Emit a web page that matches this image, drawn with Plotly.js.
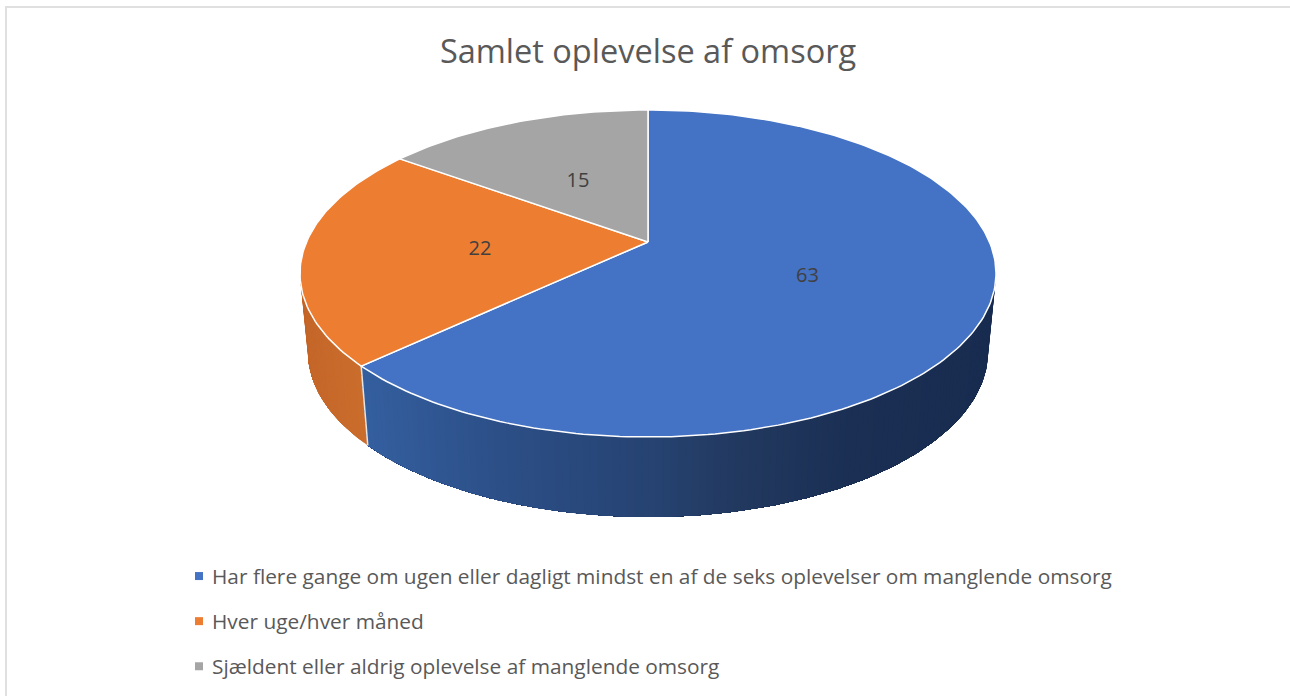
<!DOCTYPE html>
<html><head><meta charset="utf-8">
<script src="https://cdn.plot.ly/plotly-3.0.1.min.js"></script>
<style>html,body{margin:0;padding:0;background:#fff}#c{width:1290px;height:696px}</style>
</head><body><div id="c"></div>
<script>
const categories = [
  "Har flere gange om ugen eller dagligt mindst en af de seks oplevelser om manglende omsorg",
  "Hver uge/hver måned",
  "Sjældent eller aldrig oplevelse af manglende omsorg"
];
const values = [63, 22, 15];
const topColors = ["#4472C4", "#ED7D31", "#A5A5A5"];
const chartTitle = "Samlet oplevelse af omsorg";

// geometry of the tilted disc, in layout units
const TOP = {cx: 648, cy: 273.5, rx: 348, ry: 163.5};
const BOT = {cx: 648, cy: 352, rx: 340, ry: 165};
const TILT = 0.193;           // perspective shift of the disc centre
const FONT = '"Open Sans", "Noto Sans", sans-serif';

function project(theta, r, e) { // theta clockwise from top, degrees
  const t = theta * Math.PI / 180, x = r * Math.sin(t), y = r * Math.cos(t), d = 1 + TILT * y;
  return [e.cx + e.rx * x * Math.sqrt(1 - TILT * TILT) / d, e.cy - e.ry * (y + TILT) / d];
}
function arc(a, b, e) {
  const n = Math.max(2, Math.ceil(Math.abs(b - a))), p = [];
  for (let i = 0; i <= n; i++) p.push(project(a + (b - a) * i / n, 1, e));
  return p;
}
const total = values.reduce((s, v) => s + v, 0);
const starts = []; let acc = 0;
values.forEach(v => { starts.push(acc); acc += v / total * 360; });
const ends = values.map((v, i) => starts[i] + v / total * 360);

function hex(c){return [1,3,5].map(i=>parseInt(c.substr(i,2),16));}
function ramp(stops, px){
  if (px <= stops[0][0]) return stops[0][1];
  for (let i = 1; i < stops.length; i++) if (px <= stops[i][0]) {
    const f = (px - stops[i-1][0]) / (stops[i][0] - stops[i-1][0]);
    const A = hex(stops[i-1][1]), B = hex(stops[i][1]);
    return 'rgb(' + A.map((v,k)=>Math.round(v + (B[k]-v)*f)).join(',') + ')';
  }
  return stops[stops.length-1][1];
}
const wallShades = [
  [[362,"#345F9F"],[500,"#2C4F87"],[648,"#264372"],[740,"#22395F"],[850,"#1B2F54"],[996,"#182C50"]],
  [[300,"#C46629"],[370,"#CB6E2C"]]
];
const traces = [];
const rightEdge = Math.acos(-TILT) * 180 / Math.PI, leftEdge = 360 - rightEdge;
function wall(a, b, shades){
  // each strip reaches to the far end and the next one paints over it, so no seams show
  const n = Math.ceil(b - a);
  for (let i = 0; i < n; i++) {
    const s = a + (b - a) * i / n;
    const pts = arc(s, b, TOP).concat(arc(b, s, BOT));
    const mid = project(s + (b - a) / n / 2, 1, TOP)[0], col = ramp(shades, mid);
    traces.push({type:'scatter', mode:'lines', x:pts.map(p=>p[0]), y:pts.map(p=>p[1]), fill:'toself',
      fillcolor:col, line:{color:col, width:0}, hoverinfo:'skip', showlegend:false});
  }
}
wall(ends[0], leftEdge, wallShades[1]);
wall(rightEdge, ends[0], wallShades[0]);
// seam between the walls
const seamA = project(ends[0], 1, TOP), seamB = project(ends[0], 1, BOT);
traces.push({type:'scatter', mode:'lines', x:[seamA[0],seamB[0]], y:[seamA[1],seamB[1]],
  line:{color:'#E8E4E0', width:1.5}, hoverinfo:'skip', showlegend:false});
// top faces
values.forEach((v, i) => {
  const apex = project(0, 0, TOP), pts = [apex].concat(arc(starts[i], ends[i], TOP), [apex]);
  traces.push({type:'scatter', mode:'lines', x:pts.map(p=>p[0]), y:pts.map(p=>p[1]), fill:'toself',
    fillcolor:topColors[i], line:{color:'#FFFFFF', width:1.5}, name:categories[i], showlegend:false, hoverinfo:'name'});
});
// data labels
const labelPts = values.map((v,i)=>project((starts[i]+ends[i])/2, 0.49, TOP));
traces.push({type:'scatter', mode:'text', x:labelPts.map(p=>p[0]), y:labelPts.map(p=>p[1]+3.5),
  text:values.map(String), textposition:'middle center', textfont:{family:FONT, size:20, color:'#404040'},
  hoverinfo:'skip', showlegend:false});
// legend entries
values.forEach((v,i)=>{
  traces.push({type:'scatter', mode:'markers', x:[null], y:[null], name:categories[i], legendgroup:'g'+i,
    marker:{symbol:'square', size:8, color:topColors[i]}});
});
const layout = {
  width:1290, height:696, margin:{l:0,r:0,t:0,b:0}, paper_bgcolor:'#fff', plot_bgcolor:'#fff',
  title:{text:chartTitle, font:{family:FONT, size:32.5, color:'#595959'}, x:648/1290, xanchor:'center', y:1-52/696, yanchor:'middle'},
  xaxis:{range:[0,1290], visible:false, fixedrange:true},
  yaxis:{range:[696,0], visible:false, fixedrange:true},
  shapes:[{type:'rect', xref:'x', yref:'y', x0:6, y0:7, x1:1320, y1:740, line:{color:'#E0E0E0', width:2}, fillcolor:'rgba(0,0,0,0)', layer:'below'}],
  legend:{x:172/1290, y:1-556/696, xanchor:'left', yanchor:'top', traceorder:'grouped', tracegroupgap:15,
    font:{family:FONT, size:20.85, color:'#595959'}, bgcolor:'rgba(0,0,0,0)'},
  showlegend:true
};
Plotly.newPlot('c', traces, layout, {displayModeBar:false, staticPlot:true}).then(() => {
  // the reference swatches sit closer to their text than Plotly's minimum item width allows
  document.querySelectorAll('.legend .legendsymbols').forEach(g => g.setAttribute('transform', 'translate(7,0)'));
});
</script></body></html>
